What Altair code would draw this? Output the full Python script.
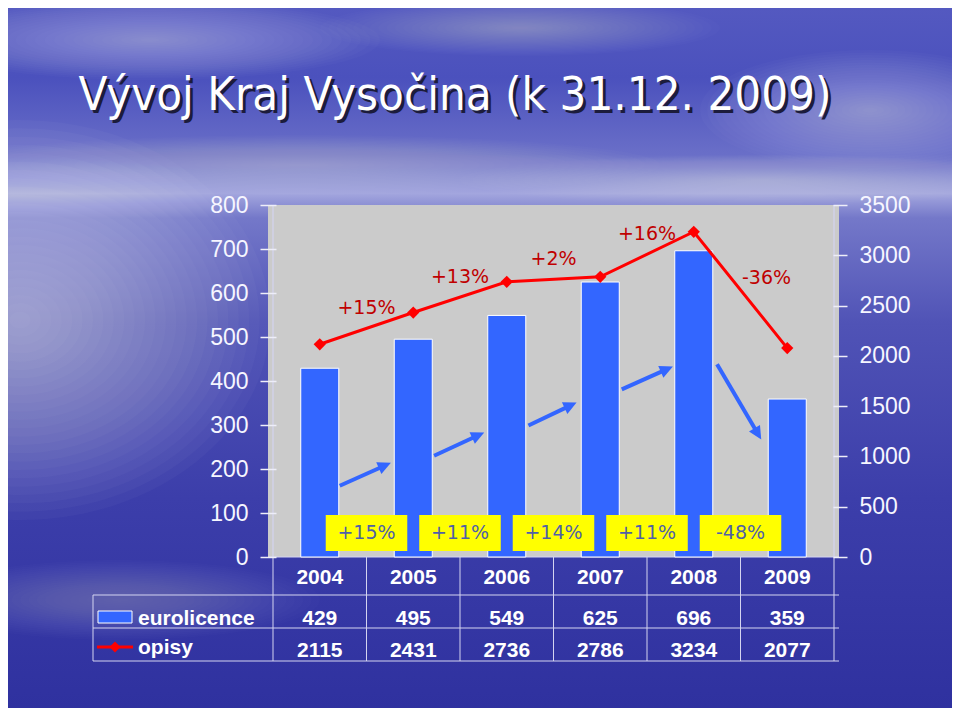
import math
import altair as alt
import pandas as pd

# ---------------- data ----------------
years = ["2004", "2005", "2006", "2007", "2008", "2009"]
eurolicence = [429, 495, 549, 625, 696, 359]
opisy = [2115, 2431, 2736, 2786, 3234, 2077]
opisy_change = ["+15%", "+13%", "+2%", "+16%", "-36%"]
euro_change = ["+15%", "+11%", "+14%", "+11%", "-48%"]
series_names = ["eurolicence", "opisy"]
title_text = "Vývoj Kraj Vysočina (k 31.12. 2009)"
left_ticks = [0, 100, 200, 300, 400, 500, 600, 700, 800]
right_ticks = [0, 500, 1000, 1500, 2000, 2500, 3000, 3500]

# decorative trend arrows (x: category index, y: left-axis units)
arrow_x0 = [0.214, 1.223, 2.232, 3.230, 4.249]
arrow_y0 = [162, 230, 299, 381, 438]
arrow_x1 = [0.761, 1.759, 2.747, 3.777, 4.722]
arrow_y1 = [214, 283, 351, 433, 267]

# ---------------- layout / style ----------------
W, H = 571, 352
PAD = {"left": 260, "top": 197, "right": 113, "bottom": 151}
BLUE = "#3366FF"
RED = "#FF0000"
DARKRED = "#C00000"
GRID = "#D4D4F0"
SANS = "Liberation Sans, Arial, sans-serif"
PCT_FONT = "DejaVu Sans, Verdana, sans-serif"
TITLE_FONT = "DejaVu Sans Condensed, Liberation Sans Narrow, Arial Narrow, sans-serif"

n = len(years)
LMAX, RMAX = left_ticks[-1], right_ticks[-1]
PX_X = W / n
PX_YL = H / LMAX

df = pd.DataFrame({"idx": list(range(n)), "year": years,
                   "eurolicence": eurolicence, "opisy": opisy})

mids = [i + 0.5 for i in range(n - 1)]
chg = pd.DataFrame({
    "mid": mids,
    "opisy_label": opisy_change,
    "euro_label": euro_change,
    "ly": [(opisy[i] + opisy[i + 1]) / 2 for i in range(n - 1)],
    "rising": [opisy[i + 1] >= opisy[i] for i in range(n - 1)],
    "bx1": [m - 0.436 for m in mids],
    "bx2": [m + 0.436 for m in mids],
})

arr_rows = []
for a0, b0, a1, b1 in zip(arrow_x0, arrow_y0, arrow_x1, arrow_y1):
    dxp = (a1 - a0) * PX_X
    dyp = -(b1 - b0) * PX_YL
    L = math.hypot(dxp, dyp)
    f = 9.0 / L
    arr_rows.append({"x0": a0, "y0": b0,
                     "xs": a1 - f * (a1 - a0), "ys": b1 - f * (b1 - b0),
                     "x1": a1, "y1": b1,
                     "ang": math.degrees(math.atan2(dxp, -dyp)) % 360})
arr = pd.DataFrame(arr_rows)

ONE = pd.DataFrame({"k": [0]})
xs = alt.Scale(domain=[-0.5, n - 0.5], nice=False, zero=False)
yl = alt.Scale(domain=[0, LMAX], nice=False, zero=True)
yr = alt.Scale(domain=[0, RMAX], nice=False, zero=True)


def X(field):
    return alt.X(f"{field}:Q", scale=xs, axis=None)


def px_rule(x1, x2, y1, y2, color=GRID, width=1):
    return alt.Chart(ONE).mark_rule(color=color, strokeWidth=width).encode(
        x=alt.value(x1), x2=alt.value(x2), y=alt.value(y1), y2=alt.value(y2))


def axis(orient, values, tick, off):
    return alt.Axis(orient=orient, values=values, format="d", domain=False, grid=False,
                    tickSize=tick, tickWidth=1.5, tickColor="#EEEEF8", offset=off,
                    labelPadding=12, labelFont=SANS, labelFontSize=23,
                    labelColor="#F6F6FF", labelFlush=False, labelOverlap=False,
                    title=None, zindex=2)


# ---------------- background ----------------
sky = alt.LinearGradient(
    gradient="linear", x1=0, y1=0, x2=0, y2=1,
    stops=[alt.GradientStop(color="#5459c0", offset=0.0),
           alt.GradientStop(color="#4b51bd", offset=0.10),
           alt.GradientStop(color="#6a6fc8", offset=0.21),
           alt.GradientStop(color="#a3a6de", offset=0.265),
           alt.GradientStop(color="#7478c9", offset=0.30),
           alt.GradientStop(color="#5053b6", offset=0.45),
           alt.GradientStop(color="#3c3eaa", offset=0.70),
           alt.GradientStop(color="#2f319f", offset=1.0)])
bg = alt.Chart(ONE).mark_rect(fill=sky).encode(
    x=alt.value(-PAD["left"]), x2=alt.value(W + PAD["right"]),
    y=alt.value(-PAD["top"]), y2=alt.value(H + PAD["bottom"]))

NSTEP = 24
STEPS = pd.DataFrame({"f": [i / NSTEP for i in range(1, NSTEP + 1)]})


def glow(cx, cy, rx, ry, alpha, color="#EEEEFF"):
    """soft light patch made of stacked translucent ellipses (page coords)."""
    k = ry / rx
    shape = f"M-1,0A1,{k:.4f} 0 1,1 1,0A1,{k:.4f} 0 1,1 -1,0Z"
    d = STEPS.assign(s=lambda t: (2 * rx * t["f"]) ** 2)
    return alt.Chart(d).mark_point(shape=shape, filled=True, color=color,
                                   opacity=alpha, strokeWidth=0).encode(
        x=alt.value(cx - 8 - PAD["left"]), y=alt.value(cy - 8 - PAD["top"]),
        size=alt.Size("s:Q", scale=None, legend=None))


glows = [
    glow(20, 320, 250, 200, 0.028),
    glow(150, 40, 230, 40, 0.02),
    glow(520, 28, 200, 28, 0.016),
    glow(870, 110, 170, 60, 0.02),
    glow(300, 165, 360, 30, 0.016),
    glow(760, 180, 300, 25, 0.016),
    glow(120, 600, 200, 40, 0.012),
]

plot_bg = alt.Chart(ONE).mark_rect(fill="#CBCBCB").encode(
    x=alt.value(0), x2=alt.value(W), y=alt.value(0), y2=alt.value(H))

# ---------------- table grid ----------------
bounds = pd.DataFrame({"b": [k - 0.5 for k in range(n + 1)]})
edges = pd.DataFrame({"b": [-0.5, n - 0.5]})
vgrid = alt.Chart(bounds).mark_rule(color=GRID, strokeWidth=1).encode(
    x=X("b"), y=alt.value(H), y2=alt.value(H + 104))
edge_lines = alt.Chart(edges).mark_rule(color=GRID, strokeWidth=1.2).encode(
    x=X("b"), y=alt.value(0), y2=alt.value(H))
hgrid = [px_rule(0, W, H, H), px_rule(-175, W, H + 38, H + 38),
         px_rule(-175, W, H + 71, H + 71), px_rule(-175, W, H + 104, H + 104),
         px_rule(-175, -175, H + 38, H + 104)]

# ---------------- bars (left scale) ----------------
bars = alt.Chart(df).mark_bar(size=38, color=BLUE, stroke="white", strokeWidth=1).encode(
    x=X("idx"),
    y=alt.Y("eurolicence:Q", scale=yl, axis=axis("left", left_ticks, 16, -8)))
shafts = alt.Chart(arr).mark_rule(color=BLUE, strokeWidth=4, strokeCap="butt").encode(
    x=X("x0"), x2="xs:Q", y=alt.Y("y0:Q", scale=yl, axis=None), y2="ys:Q")
heads = alt.Chart(arr).mark_point(shape="M0,0L0.8,1.65L-0.8,1.65Z", filled=True,
                                  size=256, color=BLUE, opacity=1).encode(
    x=X("x1"), y=alt.Y("y1:Q", scale=yl, axis=None),
    angle=alt.Angle("ang:Q", scale=None))

# ---------------- line (right scale) ----------------
line = alt.Chart(df).mark_line(color=RED, strokeWidth=3).encode(
    x=X("idx"),
    y=alt.Y("opisy:Q", scale=yr, axis=axis("right", right_ticks, 14, -6)))
pts = alt.Chart(df).mark_point(shape="diamond", filled=True, size=150, color=RED,
                               opacity=1).encode(
    x=X("idx"), y=alt.Y("opisy:Q", scale=yr, axis=None))
lab_up = alt.Chart(chg).transform_filter("datum.rising").mark_text(
    font=PCT_FONT, fontSize=19, color=DARKRED, dy=-20, baseline="middle").encode(
    x=X("mid"), y=alt.Y("ly:Q", scale=yr, axis=None), text="opisy_label:N")
lab_down = alt.Chart(chg).transform_filter("!datum.rising").mark_text(
    font=PCT_FONT, fontSize=19, color=DARKRED, dx=26, dy=-12, baseline="middle").encode(
    x=X("mid"), y=alt.Y("ly:Q", scale=yr, axis=None), text="opisy_label:N")

# ---------------- yellow change boxes ----------------
boxes = alt.Chart(chg).mark_rect(fill="#FFFF00").encode(
    x=X("bx1"), x2="bx2:Q", y=alt.value(H - 42), y2=alt.value(H - 6))
box_txt = alt.Chart(chg).mark_text(font=PCT_FONT, fontSize=19, color="#4F5FA8",
                                   baseline="middle").encode(
    x=X("mid"), y=alt.value(H - 24), text="euro_label:N")


# ---------------- data table ----------------
def row_text(field, ybase):
    return alt.Chart(df).mark_text(font=SANS, fontSize=21, fontWeight="bold",
                                   color="white", baseline="alphabetic").encode(
        x=X("idx"), y=alt.value(ybase), text=f"{field}:N")


table_txt = [row_text("year", H + 27), row_text("eurolicence", H + 68),
             row_text("opisy", H + 100)]


def legend_label(name, ybase):
    return alt.Chart(ONE).mark_text(text=name, font=SANS, fontSize=21, fontWeight="bold",
                                    color="white", align="left",
                                    baseline="alphabetic").encode(
        x=alt.value(-130), y=alt.value(ybase))


leg_labs = [legend_label(series_names[0], H + 68), legend_label(series_names[1], H + 97)]
leg_swatch = alt.Chart(ONE).mark_rect(fill=BLUE, stroke="white", strokeWidth=1).encode(
    x=alt.value(-170), x2=alt.value(-136), y=alt.value(H + 54), y2=alt.value(H + 66))
leg_line = px_rule(-171, -135, H + 90, H + 90, color=RED, width=3)
leg_pt = alt.Chart(ONE).mark_point(shape="diamond", filled=True, size=120, color=RED,
                                   opacity=1).encode(x=alt.value(-153), y=alt.value(H + 90))


# ---------------- title ----------------
def title_layer(dx, dy, color):
    return alt.Chart(ONE).mark_text(text=title_text, font=TITLE_FONT, fontSize=47,
                                    color=color, align="center",
                                    baseline="alphabetic").encode(
        x=alt.value(187 + dx), y=alt.value(-95 + dy))


title_shadow = title_layer(3, 3, "#1c1c3c")
title_main = title_layer(0, 0, "white")

chart = alt.layer(
    bg, *glows, plot_bg, vgrid, edge_lines, *hgrid,
    bars, shafts, heads, boxes, box_txt,
    line, pts, lab_up, lab_down,
    *table_txt, *leg_labs, leg_swatch, leg_line, leg_pt,
    title_shadow, title_main,
).resolve_scale(y="independent").properties(
    width=W, height=H, padding=PAD,
    autosize=alt.AutoSizeParams(type="none"),
    background="#3a3eab",
).configure_view(strokeWidth=0)

chart.save("out.html", embed_options={"renderer": "svg", "actions": False})
